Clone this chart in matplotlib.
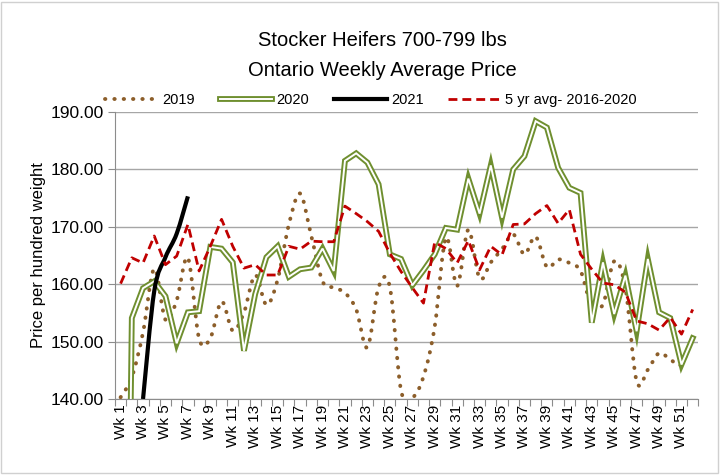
"""
Stocker heifers 700-799 lbs - Ontario weekly average price, 2019-2021 vs 5 yr avg.
"""

import numpy as np
import matplotlib
matplotlib.use("Agg")
import matplotlib.pyplot as plt
from matplotlib.lines import Line2D
from matplotlib.patches import PathPatch, Rectangle
from matplotlib.path import Path

plt.rcParams["font.family"] = ["Liberation Sans", "DejaVu Sans"]

weeks = np.arange(1, 53)
week_labels = [f"Wk {w}" for w in weeks]

price_2019 = [140.3, 143.8, 151.6, 162.7, 153.8, 157.2, 164.6, 150.5, 150.6, 157.0,
              151.9, 155.1, 161.6, 156.4, 160.8, 170.4, 175.8, 168.4, 160.5, 159.4,
              158.5, 155.6, 149.0, 159.5, 159.5, 141.5, 140.2, 143.9, 152.6, 168.1,
              159.7, 169.5, 161.0, 163.8, 166.1, 168.7, 165.2, 168.3, 163.0, 164.3,
              163.7, 162.3, 156.2, 156.5, 164.0, 159.4, 143.1, 145.1, 148.0, 146.9,
              146.0, 150.9]
price_2020 = [0.0, 154.1, 159.3, 160.5, 157.9, 149.7, 155.1, 155.3, 166.5, 166.2,
              163.8, 148.4, 158.3, 164.7, 166.6, 161.3, 162.6, 162.9, 166.2, 162.3,
              181.5, 182.8, 181.2, 177.4, 165.2, 164.4, 159.8, 162.4, 165.2, 169.8,
              169.5, 178.4, 172.3, 180.7, 171.6, 180.0, 182.3, 188.4, 187.3, 180.3,
              176.8, 175.9, 153.3, 163.8, 154.8, 161.5, 151.8, 164.4, 155.1, 154.1,
              146.0, 150.6]
price_2021 = [np.nan, np.nan, 140.0, 158.8, 164.7, 168.8, 175.3] + [np.nan] * 45
avg_5yr = [160.1, 164.6, 163.7, 168.4, 163.4, 164.9, 170.4, 162.3, 166.6, 171.3,
           166.6, 162.8, 163.4, 161.6, 161.6, 166.6, 166.1, 167.5, 167.4, 167.4,
           173.6, 172.3, 170.9, 169.2, 165.4, 162.2, 159.4, 156.7, 167.3, 166.2,
           163.7, 167.6, 162.5, 166.6, 165.1, 170.4, 170.5, 172.3, 173.7, 170.6,
           173.0, 165.2, 162.6, 160.2, 159.9, 158.6, 153.6, 153.1, 152.0, 154.2,
           151.3, 155.6]

y_ticks = [140, 150, 160, 170, 180, 190]

BROWN = "#8C5E2A"
OLIVE = "#6F8F2F"
RED = "#C00000"
GRAY = "#8C8C8C"


def smooth_path(x, y):
    """Bezier curve through the data points (Excel 'smoothed line')."""
    pts = np.array([(a, b) for a, b in zip(x, y) if not np.isnan(b)], dtype=float)
    verts = [pts[0]]
    codes = [Path.MOVETO]
    n = len(pts)
    for i in range(n - 1):
        p0 = pts[max(i - 1, 0)]
        p1 = pts[i]
        p2 = pts[i + 1]
        p3 = pts[min(i + 2, n - 1)]
        verts += [p1 + (p2 - p0) / 6, p2 - (p3 - p1) / 6, p2]
        codes += [Path.CURVE4] * 3
    return Path(verts, codes)


fig = plt.figure(figsize=(7.25, 4.76), dpi=100)
ax = fig.add_axes([0.1586, 0.1618, 0.8046, 0.6029])

dots = (0, (0.1, 2.3))
ax.add_patch(PathPatch(smooth_path(weeks, price_2019), fill=False, edgecolor=BROWN,
                       lw=2.8, linestyle=dots, capstyle="round", zorder=3))
ax.plot(weeks, price_2020, color=OLIVE, lw=4.2, solid_joinstyle="miter", zorder=4)
ax.plot(weeks, price_2020, color="white", lw=1.4, solid_joinstyle="miter", zorder=4)
ax.add_patch(PathPatch(smooth_path(weeks, price_2021), fill=False, edgecolor="black",
                       lw=3.0, zorder=5))
ax.plot(weeks, avg_5yr, color=RED, lw=2.0, dashes=(3.2, 1.8), zorder=6)

ax.set_xlim(0.5, 52.5)
ax.set_ylim(140, 190)
ax.set_yticks(y_ticks, [f"{v:.2f}" for v in y_ticks])
ax.set_xticks(np.arange(0.5, 53, 1), [])
ax.set_xticks(weeks[::2], week_labels[::2], minor=True)
ax.tick_params(axis="x", which="major", length=5, direction="out", color=GRAY)
ax.tick_params(axis="x", which="minor", length=0, rotation=90, labelsize=11, pad=4)
ax.tick_params(axis="y", length=5, direction="out", color=GRAY, labelsize=12.5, pad=3)

ax.set_axisbelow(True)
ax.yaxis.grid(True, color="#A6A6A6", lw=1)
for side in ("top", "right"):
    ax.spines[side].set_visible(False)
for side in ("left", "bottom"):
    ax.spines[side].set_color(GRAY)

ax.set_ylabel("Price per hundred weight", fontsize=12)
ax.yaxis.set_label_coords(-0.118, 0.5)

fig.text(0.528, 0.914, "Stocker Heifers 700-799 lbs", ha="center", va="center", fontsize=14.5)
fig.text(0.528, 0.851, "Ontario Weekly Average Price", ha="center", va="center", fontsize=14.5)

handles = [
    Line2D([], [], color=BROWN, lw=2.8, linestyle=dots, dash_capstyle="round"),
    (Line2D([], [], color=OLIVE, lw=4.2), Line2D([], [], color="white", lw=1.4)),
    Line2D([], [], color="black", lw=3.0),
    Line2D([], [], color=RED, lw=2.0, dashes=(3.2, 1.8)),
]
fig.legend(handles, ["2019", "2020", "2021", "5 yr avg- 2016-2020"],
           loc="center", bbox_to_anchor=(0.512, 0.789), ncol=4, frameon=False,
           handlelength=3.6, columnspacing=1.7, handletextpad=0.3, fontsize=10.5)

fig.add_artist(Rectangle((0.002, 0.006), 0.988, 0.99, transform=fig.transFigure,
                         fill=False, edgecolor="#D0D0D0", lw=1))

fig.savefig("out.png", dpi=100)
plt.close(fig)
